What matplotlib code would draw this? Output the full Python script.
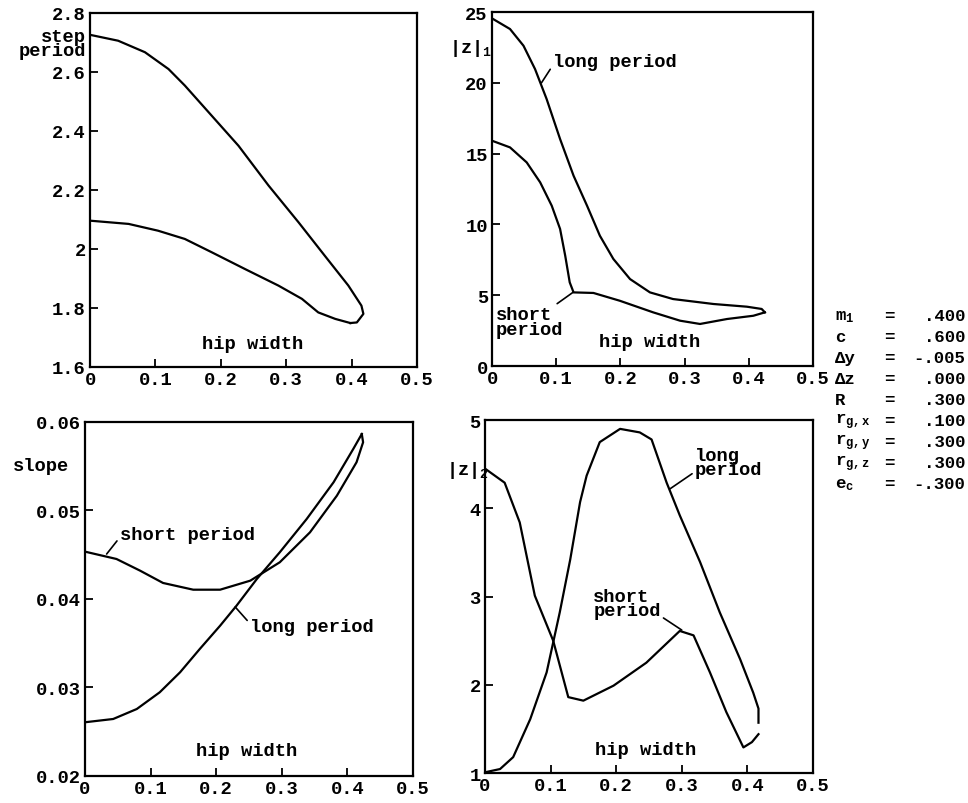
import matplotlib
matplotlib.use("Agg")
import matplotlib.pyplot as plt

# step period vs hip width (the two branches meet at the tip near 0.42)
sp_long_x = [0.0, 0.043, 0.084, 0.120, 0.145, 0.186, 0.227, 0.273, 0.319, 0.359,
             0.395, 0.415, 0.418, 0.408, 0.398]
sp_long_y = [2.726, 2.706, 2.667, 2.610, 2.554, 2.452, 2.350, 2.215, 2.090, 1.977,
             1.876, 1.808, 1.780, 1.751, 1.749]
sp_short_x = [0.0, 0.059, 0.104, 0.145, 0.186, 0.237, 0.288, 0.324, 0.349, 0.375, 0.398]
sp_short_y = [2.096, 2.085, 2.062, 2.034, 1.989, 1.932, 1.876, 1.831, 1.785, 1.763, 1.749]

# |z|_1 vs hip width
z1_long_x = [0.0, 0.028, 0.049, 0.067, 0.085, 0.106, 0.127, 0.148, 0.168, 0.189,
             0.215, 0.246, 0.282, 0.345, 0.397, 0.420, 0.425]
z1_long_y = [24.55, 23.8, 22.62, 20.97, 18.86, 16.03, 13.44, 11.32, 9.2, 7.56,
             6.14, 5.2, 4.73, 4.38, 4.19, 4.03, 3.79]
z1_short_x = [0.0, 0.028, 0.054, 0.075, 0.093, 0.106, 0.114, 0.121, 0.127, 0.158,
              0.199, 0.251, 0.293, 0.324, 0.366, 0.407, 0.425]
z1_short_y = [15.91, 15.44, 14.38, 12.97, 11.32, 9.68, 7.79, 5.91, 5.2, 5.16,
              4.61, 3.79, 3.2, 2.97, 3.32, 3.55, 3.79]

# slope vs hip width
sl_long_x = [0.0, 0.043, 0.079, 0.114, 0.145, 0.175, 0.206, 0.231, 0.262, 0.297,
             0.338, 0.379, 0.409, 0.422]
sl_long_y = [0.02607, 0.02644, 0.02757, 0.02946, 0.03172, 0.03435, 0.03698, 0.03924,
             0.04226, 0.04528, 0.04904, 0.05319, 0.05695, 0.05864]
sl_short_x = [0.0, 0.048, 0.084, 0.119, 0.165, 0.206, 0.252, 0.297, 0.343, 0.384,
              0.414, 0.424, 0.422]
sl_short_y = [0.04535, 0.04452, 0.0432, 0.04181, 0.04105, 0.04105, 0.04207, 0.04415,
              0.04753, 0.05167, 0.05545, 0.05771, 0.05864]

# |z|_2 vs hip width
z2_long_x = [0.0, 0.023, 0.043, 0.069, 0.094, 0.114, 0.130, 0.145, 0.155, 0.175,
             0.206, 0.236, 0.254, 0.277, 0.297, 0.328, 0.358, 0.389, 0.409, 0.417, 0.417]
z2_long_y = [1.008, 1.045, 1.18, 1.61, 2.14, 2.82, 3.42, 4.07, 4.37, 4.75,
             4.90, 4.86, 4.78, 4.29, 3.92, 3.39, 2.82, 2.29, 1.91, 1.73, 1.57]
z2_short_x = [0.0, 0.030, 0.053, 0.076, 0.104, 0.127, 0.150, 0.196, 0.246, 0.297,
              0.318, 0.343, 0.368, 0.394, 0.407, 0.417]
z2_short_y = [4.45, 4.29, 3.84, 3.01, 2.50, 1.86, 1.82, 1.99, 2.25, 2.61,
              2.56, 2.14, 1.69, 1.29, 1.35, 1.44]

param_names = ["m$_1$", "c", "\u0394y", "\u0394z", "R", "r$_{g,x}$", "r$_{g,y}$",
               "r$_{g,z}$", "e$_c$"]
param_values = [".400", ".600", "-.005", ".000", ".300", ".100", ".300", ".300", "-.300"]

plt.rcParams["font.family"] = "Liberation Mono"
plt.rcParams["font.weight"] = "bold"
plt.rcParams["mathtext.fontset"] = "custom"
plt.rcParams["mathtext.rm"] = "Liberation Mono:bold"
plt.rcParams["mathtext.it"] = "Liberation Mono:bold"
plt.rcParams["lines.solid_joinstyle"] = "round"
FS = 13.5
LW = 1.6
LEAD = dict(arrowstyle="-", lw=1.2, shrinkA=0, shrinkB=0)

fig = plt.figure(figsize=(9.68, 8.04), dpi=100)


def setup(ax, ylim, yticks, ylabels):
    ax.set_xlim(0, 0.5)
    ax.set_ylim(*ylim)
    ax.set_xticks([0, 0.1, 0.2, 0.3, 0.4, 0.5])
    ax.set_xticklabels(["0", "0.1", "0.2", "0.3", "0.4", "0.5"], fontsize=FS)
    ax.set_yticks(yticks)
    ax.set_yticklabels(ylabels, fontsize=FS)
    ax.tick_params(direction="in", length=6, width=1.3, pad=3)
    for s in ax.spines.values():
        s.set_linewidth(1.6)


ax1 = fig.add_axes([0.093, 0.5423, 0.3378, 0.4403])
ax1.plot(sp_long_x, sp_long_y, color="black", lw=LW)
ax1.plot(sp_short_x, sp_short_y, color="black", lw=LW)
setup(ax1, (1.6, 2.8), [1.6, 1.8, 2.0, 2.2, 2.4, 2.6, 2.8],
      ["1.6", "1.8", "2", "2.2", "2.4", "2.6", "2.8"])
ax1.text(0.249, 1.678, "hip width", fontsize=FS, ha="center", va="center")
ax1.text(-0.012, 0.914, "step\nperiod", transform=ax1.transAxes, fontsize=FS,
         ha="right", va="center", linespacing=0.75)

ax2 = fig.add_axes([0.5083, 0.5435, 0.3316, 0.4403])
ax2.plot(z1_long_x, z1_long_y, color="black", lw=LW)
ax2.plot(z1_short_x, z1_short_y, color="black", lw=LW)
setup(ax2, (0, 25), [0, 5, 10, 15, 20, 25], ["0", "5", "10", "15", "20", "25"])
ax2.text(0.245, 1.7, "hip width", fontsize=FS, ha="center", va="center")
ax2.text(0.0, 0.90, "|z|$_1$", transform=ax2.transAxes, fontsize=FS,
         ha="right", va="center")
ax2.annotate("long period", xy=(0.077, 20.0), xytext=(0.095, 21.5), fontsize=FS,
             ha="left", va="center", arrowprops=dict(LEAD, relpos=(0, 0.3)))
ax2.annotate("short\nperiod", xy=(0.126, 5.2), xytext=(0.006, 3.1), fontsize=FS,
             ha="left", va="center", linespacing=0.8,
             arrowprops=dict(LEAD, relpos=(0.85, 1.0)))

ax3 = fig.add_axes([0.0878, 0.0336, 0.3388, 0.4403])
ax3.plot(sl_long_x, sl_long_y, color="black", lw=LW)
ax3.plot(sl_short_x, sl_short_y, color="black", lw=LW)
setup(ax3, (0.02, 0.06), [0.02, 0.03, 0.04, 0.05, 0.06],
      ["0.02", "0.03", "0.04", "0.05", "0.06"])
ax3.text(0.247, 0.02283, "hip width", fontsize=FS, ha="center", va="center")
ax3.text(-0.22, 0.876, "slope", transform=ax3.transAxes, fontsize=FS,
         ha="left", va="center")
ax3.annotate("short period", xy=(0.033, 0.04508), xytext=(0.053, 0.04734), fontsize=FS,
             ha="left", va="center", arrowprops=dict(LEAD, relpos=(0, 0.3)))
ax3.annotate("long period", xy=(0.229, 0.0391), xytext=(0.2515, 0.03684), fontsize=FS,
             ha="left", va="center", arrowprops=dict(LEAD, relpos=(0, 0.7)))

ax4 = fig.add_axes([0.501, 0.0373, 0.3388, 0.439])
ax4.plot(z2_long_x, z2_long_y, color="black", lw=LW)
ax4.plot(z2_short_x, z2_short_y, color="black", lw=LW)
setup(ax4, (1, 5), [1, 2, 3, 4, 5], ["1", "2", "3", "4", "5"])
ax4.text(0.245, 1.27, "hip width", fontsize=FS, ha="center", va="center")
ax4.text(0.012, 0.861, "|z|$_2$", transform=ax4.transAxes, fontsize=FS,
         ha="right", va="center")
ax4.annotate("long\nperiod", xy=(0.282, 4.22), xytext=(0.320, 4.52), fontsize=FS,
             ha="left", va="center", linespacing=0.8,
             arrowprops=dict(LEAD, relpos=(0, 0.2)))
ax4.annotate("short\nperiod", xy=(0.300, 2.62), xytext=(0.165, 2.92), fontsize=FS,
             ha="left", va="center", linespacing=0.8,
             arrowprops=dict(LEAD, relpos=(1.0, 0.1)))

# parameter list
for i, (n, v) in enumerate(zip(param_names, param_values)):
    y = 1 - (317 + i * 21) / 804
    fig.text(835 / 968, y, n, fontsize=12.5, ha="left", va="center")
    fig.text(889 / 968, y, "=", fontsize=12.5, ha="center", va="center")
    fig.text(965 / 968, y, v, fontsize=12.5, ha="right", va="center")

fig.savefig("out.png", dpi=100)
